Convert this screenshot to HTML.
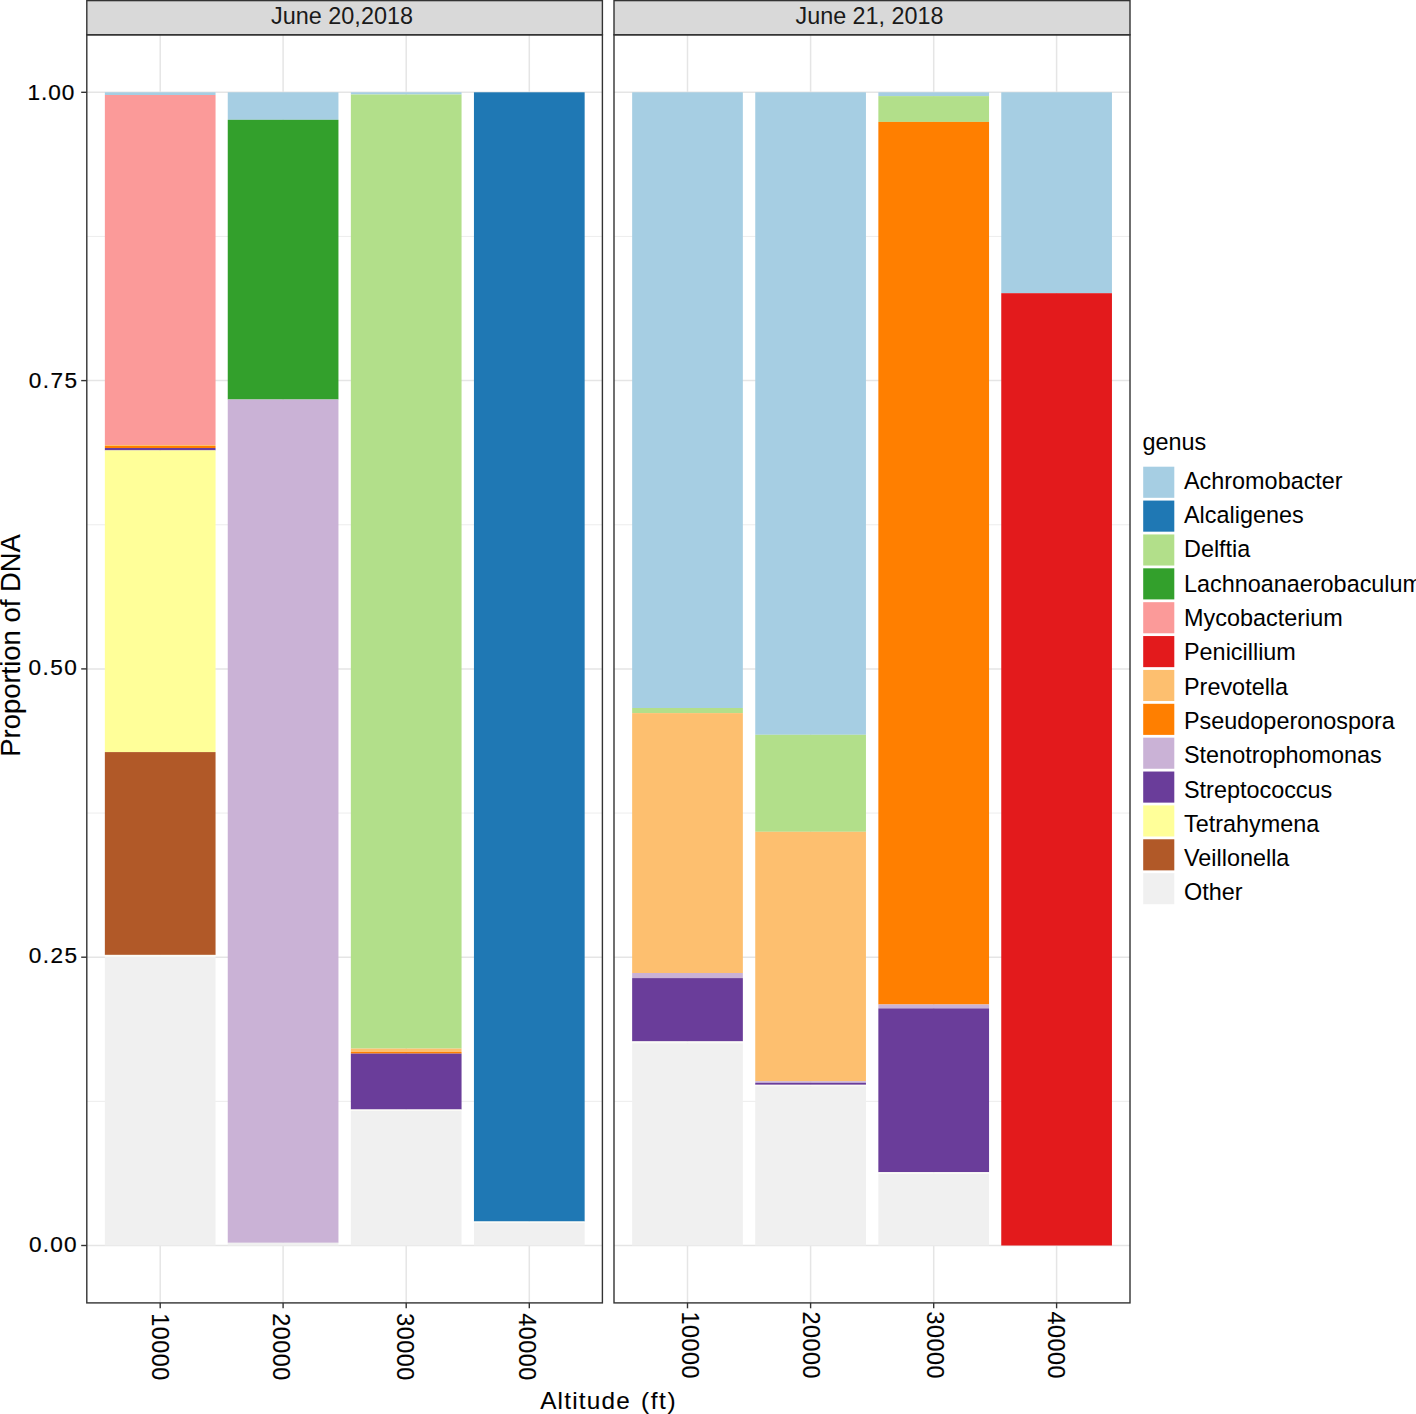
<!DOCTYPE html>
<html><head><meta charset="utf-8"><style>
html,body{margin:0;padding:0;background:#fff;width:1416px;height:1414px;overflow:hidden}
</style></head><body>
<svg width="1416" height="1414" viewBox="0 0 1416 1414" style="display:block">
<rect x="0" y="0" width="1416" height="1414" fill="#ffffff"/>
<line x1="86.8" x2="602.4" y1="1101.35" y2="1101.35" stroke="#E8E8E8" stroke-width="0.8"/>
<line x1="86.8" x2="602.4" y1="813.05" y2="813.05" stroke="#E8E8E8" stroke-width="0.8"/>
<line x1="86.8" x2="602.4" y1="524.75" y2="524.75" stroke="#E8E8E8" stroke-width="0.8"/>
<line x1="86.8" x2="602.4" y1="236.45" y2="236.45" stroke="#E8E8E8" stroke-width="0.8"/>
<line x1="86.8" x2="602.4" y1="1245.50" y2="1245.50" stroke="#E5E5E5" stroke-width="1.5"/>
<line x1="86.8" x2="602.4" y1="957.20" y2="957.20" stroke="#E5E5E5" stroke-width="1.5"/>
<line x1="86.8" x2="602.4" y1="668.90" y2="668.90" stroke="#E5E5E5" stroke-width="1.5"/>
<line x1="86.8" x2="602.4" y1="380.60" y2="380.60" stroke="#E5E5E5" stroke-width="1.5"/>
<line x1="86.8" x2="602.4" y1="92.30" y2="92.30" stroke="#E5E5E5" stroke-width="1.5"/>
<line x1="160.2" x2="160.2" y1="34.8" y2="1302.9" stroke="#E5E5E5" stroke-width="1.5"/>
<line x1="283.1" x2="283.1" y1="34.8" y2="1302.9" stroke="#E5E5E5" stroke-width="1.5"/>
<line x1="406.2" x2="406.2" y1="34.8" y2="1302.9" stroke="#E5E5E5" stroke-width="1.5"/>
<line x1="529.3" x2="529.3" y1="34.8" y2="1302.9" stroke="#E5E5E5" stroke-width="1.5"/>
<line x1="614.0" x2="1130.0" y1="1101.35" y2="1101.35" stroke="#E8E8E8" stroke-width="0.8"/>
<line x1="614.0" x2="1130.0" y1="813.05" y2="813.05" stroke="#E8E8E8" stroke-width="0.8"/>
<line x1="614.0" x2="1130.0" y1="524.75" y2="524.75" stroke="#E8E8E8" stroke-width="0.8"/>
<line x1="614.0" x2="1130.0" y1="236.45" y2="236.45" stroke="#E8E8E8" stroke-width="0.8"/>
<line x1="614.0" x2="1130.0" y1="1245.50" y2="1245.50" stroke="#E5E5E5" stroke-width="1.5"/>
<line x1="614.0" x2="1130.0" y1="957.20" y2="957.20" stroke="#E5E5E5" stroke-width="1.5"/>
<line x1="614.0" x2="1130.0" y1="668.90" y2="668.90" stroke="#E5E5E5" stroke-width="1.5"/>
<line x1="614.0" x2="1130.0" y1="380.60" y2="380.60" stroke="#E5E5E5" stroke-width="1.5"/>
<line x1="614.0" x2="1130.0" y1="92.30" y2="92.30" stroke="#E5E5E5" stroke-width="1.5"/>
<line x1="687.5" x2="687.5" y1="34.8" y2="1302.9" stroke="#E5E5E5" stroke-width="1.5"/>
<line x1="810.6" x2="810.6" y1="34.8" y2="1302.9" stroke="#E5E5E5" stroke-width="1.5"/>
<line x1="933.7" x2="933.7" y1="34.8" y2="1302.9" stroke="#E5E5E5" stroke-width="1.5"/>
<line x1="1056.6" x2="1056.6" y1="34.8" y2="1302.9" stroke="#E5E5E5" stroke-width="1.5"/>
<rect x="104.85" y="92.30" width="110.70" height="2.70" fill="#A6CEE3"/>
<rect x="104.85" y="95.00" width="110.70" height="350.00" fill="#FB9A99"/>
<rect x="104.85" y="445.00" width="110.70" height="1.00" fill="#FDBF6F"/>
<rect x="104.85" y="446.00" width="110.70" height="2.00" fill="#FF7F00"/>
<rect x="104.85" y="448.00" width="110.70" height="2.40" fill="#6A3D9A"/>
<rect x="104.85" y="450.40" width="110.70" height="301.70" fill="#FFFF99"/>
<rect x="104.85" y="752.10" width="110.70" height="202.80" fill="#B15928"/>
<rect x="104.85" y="954.90" width="110.70" height="2.00" fill="#FBFBF6"/>
<rect x="104.85" y="956.90" width="110.70" height="288.60" fill="#F0F0F0"/>
<rect x="227.75" y="92.30" width="110.70" height="27.50" fill="#A6CEE3"/>
<rect x="227.75" y="119.80" width="110.70" height="279.70" fill="#33A02C"/>
<rect x="227.75" y="399.50" width="110.70" height="843.30" fill="#CAB2D6"/>
<rect x="227.75" y="1242.80" width="110.70" height="2.70" fill="#F0F0F0"/>
<rect x="350.85" y="92.30" width="110.70" height="2.20" fill="#A6CEE3"/>
<rect x="350.85" y="94.50" width="110.70" height="954.10" fill="#B2DF8A"/>
<rect x="350.85" y="1048.60" width="110.70" height="3.40" fill="#FDBF6F"/>
<rect x="350.85" y="1052.00" width="110.70" height="1.60" fill="#FF7F00"/>
<rect x="350.85" y="1053.60" width="110.70" height="55.90" fill="#6A3D9A"/>
<rect x="350.85" y="1109.50" width="110.70" height="1.50" fill="#FBFBF6"/>
<rect x="350.85" y="1111.00" width="110.70" height="134.50" fill="#F0F0F0"/>
<rect x="473.95" y="92.30" width="110.70" height="1129.20" fill="#1F78B4"/>
<rect x="473.95" y="1221.50" width="110.70" height="1.50" fill="#FBFBF6"/>
<rect x="473.95" y="1223.00" width="110.70" height="22.50" fill="#F0F0F0"/>
<rect x="632.15" y="92.30" width="110.70" height="615.70" fill="#A6CEE3"/>
<rect x="632.15" y="708.00" width="110.70" height="5.10" fill="#B2DF8A"/>
<rect x="632.15" y="713.10" width="110.70" height="259.90" fill="#FDBF6F"/>
<rect x="632.15" y="973.00" width="110.70" height="5.10" fill="#CAB2D6"/>
<rect x="632.15" y="978.10" width="110.70" height="63.30" fill="#6A3D9A"/>
<rect x="632.15" y="1041.40" width="110.70" height="1.80" fill="#FBFBF6"/>
<rect x="632.15" y="1043.20" width="110.70" height="202.30" fill="#F0F0F0"/>
<rect x="755.25" y="92.30" width="110.70" height="642.50" fill="#A6CEE3"/>
<rect x="755.25" y="734.80" width="110.70" height="97.00" fill="#B2DF8A"/>
<rect x="755.25" y="831.80" width="110.70" height="249.40" fill="#FDBF6F"/>
<rect x="755.25" y="1081.20" width="110.70" height="1.60" fill="#CAB2D6"/>
<rect x="755.25" y="1082.80" width="110.70" height="2.00" fill="#6A3D9A"/>
<rect x="755.25" y="1084.80" width="110.70" height="1.40" fill="#FBFBF6"/>
<rect x="755.25" y="1086.20" width="110.70" height="159.30" fill="#F0F0F0"/>
<rect x="878.35" y="92.30" width="110.70" height="3.80" fill="#A6CEE3"/>
<rect x="878.35" y="96.10" width="110.70" height="25.80" fill="#B2DF8A"/>
<rect x="878.35" y="121.90" width="110.70" height="882.60" fill="#FF7F00"/>
<rect x="878.35" y="1004.50" width="110.70" height="3.90" fill="#CAB2D6"/>
<rect x="878.35" y="1008.40" width="110.70" height="163.80" fill="#6A3D9A"/>
<rect x="878.35" y="1172.20" width="110.70" height="1.70" fill="#FBFBF6"/>
<rect x="878.35" y="1173.90" width="110.70" height="71.60" fill="#F0F0F0"/>
<rect x="1001.25" y="92.30" width="110.70" height="200.90" fill="#A6CEE3"/>
<rect x="1001.25" y="293.20" width="110.70" height="952.30" fill="#E31A1C"/>
<rect x="86.8" y="0.6" width="515.60" height="34.20" fill="#D9D9D9" stroke="#333333" stroke-width="1.4"/>
<rect x="86.8" y="34.8" width="515.60" height="1268.10" fill="none" stroke="#333333" stroke-width="1.4"/>
<line x1="160.2" x2="160.2" y1="1302.9" y2="1308.3000000000002" stroke="#333333" stroke-width="1.4"/>
<line x1="283.1" x2="283.1" y1="1302.9" y2="1308.3000000000002" stroke="#333333" stroke-width="1.4"/>
<line x1="406.2" x2="406.2" y1="1302.9" y2="1308.3000000000002" stroke="#333333" stroke-width="1.4"/>
<line x1="529.3" x2="529.3" y1="1302.9" y2="1308.3000000000002" stroke="#333333" stroke-width="1.4"/>
<rect x="614.0" y="0.6" width="516.00" height="34.20" fill="#D9D9D9" stroke="#333333" stroke-width="1.4"/>
<rect x="614.0" y="34.8" width="516.00" height="1268.10" fill="none" stroke="#333333" stroke-width="1.4"/>
<line x1="687.5" x2="687.5" y1="1302.9" y2="1308.3000000000002" stroke="#333333" stroke-width="1.4"/>
<line x1="810.6" x2="810.6" y1="1302.9" y2="1308.3000000000002" stroke="#333333" stroke-width="1.4"/>
<line x1="933.7" x2="933.7" y1="1302.9" y2="1308.3000000000002" stroke="#333333" stroke-width="1.4"/>
<line x1="1056.6" x2="1056.6" y1="1302.9" y2="1308.3000000000002" stroke="#333333" stroke-width="1.4"/>
<line x1="81.2" x2="86.8" y1="1245.50" y2="1245.50" stroke="#333333" stroke-width="1.4"/>
<line x1="81.2" x2="86.8" y1="957.20" y2="957.20" stroke="#333333" stroke-width="1.4"/>
<line x1="81.2" x2="86.8" y1="668.90" y2="668.90" stroke="#333333" stroke-width="1.4"/>
<line x1="81.2" x2="86.8" y1="380.60" y2="380.60" stroke="#333333" stroke-width="1.4"/>
<line x1="81.2" x2="86.8" y1="92.30" y2="92.30" stroke="#333333" stroke-width="1.4"/>
<text x="271.0" y="23.5" style="font-family:'Liberation Sans',sans-serif;font-size:24.3px" fill="#1A1A1A" textLength="142" lengthAdjust="spacingAndGlyphs">June 20,2018</text>
<text x="795.5" y="23.5" style="font-family:'Liberation Sans',sans-serif;font-size:24.3px" fill="#1A1A1A" textLength="148" lengthAdjust="spacingAndGlyphs">June 21, 2018</text>
<text x="28.90" y="1252.40" style="font-family:'Liberation Sans',sans-serif;font-size:22.6px" fill="#000" stroke="#000" stroke-width="0.2" textLength="47.70" lengthAdjust="spacing">0.00</text>
<text x="28.80" y="963.10" style="font-family:'Liberation Sans',sans-serif;font-size:22.6px" fill="#000" stroke="#000" stroke-width="0.2" textLength="48.20" lengthAdjust="spacing">0.25</text>
<text x="28.60" y="675.10" style="font-family:'Liberation Sans',sans-serif;font-size:22.6px" fill="#000" stroke="#000" stroke-width="0.2" textLength="48.30" lengthAdjust="spacing">0.50</text>
<text x="28.70" y="387.50" style="font-family:'Liberation Sans',sans-serif;font-size:22.6px" fill="#000" stroke="#000" stroke-width="0.2" textLength="48.30" lengthAdjust="spacing">0.75</text>
<text x="27.60" y="100.40" style="font-family:'Liberation Sans',sans-serif;font-size:22.6px" fill="#000" stroke="#000" stroke-width="0.2" textLength="46.80" lengthAdjust="spacing">1.00</text>
<text transform="translate(152.35,1313.3) rotate(90)" x="0" y="0" style="font-family:'Liberation Sans',sans-serif;font-size:23.4px" fill="#000" stroke="#000" stroke-width="0.15" textLength="67" lengthAdjust="spacing">10000</text>
<text transform="translate(272.75,1313.3) rotate(90)" x="0" y="0" style="font-family:'Liberation Sans',sans-serif;font-size:23.4px" fill="#000" stroke="#000" stroke-width="0.15" textLength="67" lengthAdjust="spacing">20000</text>
<text transform="translate(397.00,1313.3) rotate(90)" x="0" y="0" style="font-family:'Liberation Sans',sans-serif;font-size:23.4px" fill="#000" stroke="#000" stroke-width="0.15" textLength="67" lengthAdjust="spacing">30000</text>
<text transform="translate(518.80,1313.3) rotate(90)" x="0" y="0" style="font-family:'Liberation Sans',sans-serif;font-size:23.4px" fill="#000" stroke="#000" stroke-width="0.15" textLength="67" lengthAdjust="spacing">40000</text>
<text transform="translate(682.00,1311.4) rotate(90)" x="0" y="0" style="font-family:'Liberation Sans',sans-serif;font-size:23.4px" fill="#000" stroke="#000" stroke-width="0.15" textLength="67" lengthAdjust="spacing">10000</text>
<text transform="translate(802.60,1311.4) rotate(90)" x="0" y="0" style="font-family:'Liberation Sans',sans-serif;font-size:23.4px" fill="#000" stroke="#000" stroke-width="0.15" textLength="67" lengthAdjust="spacing">20000</text>
<text transform="translate(926.70,1311.4) rotate(90)" x="0" y="0" style="font-family:'Liberation Sans',sans-serif;font-size:23.4px" fill="#000" stroke="#000" stroke-width="0.15" textLength="67" lengthAdjust="spacing">30000</text>
<text transform="translate(1048.45,1311.4) rotate(90)" x="0" y="0" style="font-family:'Liberation Sans',sans-serif;font-size:23.4px" fill="#000" stroke="#000" stroke-width="0.15" textLength="67" lengthAdjust="spacing">40000</text>
<text x="540.2" y="1408.9" style="font-family:'Liberation Sans',sans-serif;font-size:24.3px" fill="#000" stroke="#000" stroke-width="0.1" textLength="89.5" lengthAdjust="spacing">Altitude</text>
<text x="641.0" y="1408.9" style="font-family:'Liberation Sans',sans-serif;font-size:24.3px" fill="#000" stroke="#000" stroke-width="0.1" textLength="34.5" lengthAdjust="spacing">(ft)</text>
<text transform="translate(19.7,756.7) rotate(-90)" x="0" y="0" style="font-family:'Liberation Sans',sans-serif;font-size:28.2px" fill="#000" stroke="#000" stroke-width="0.1" textLength="222.5" lengthAdjust="spacingAndGlyphs">Proportion of DNA</text>
<text x="1142.5" y="450.3" style="font-family:'Liberation Sans',sans-serif;font-size:24.0px" fill="#000" textLength="63.76" lengthAdjust="spacingAndGlyphs">genus</text>
<rect x="1143.2" y="466.70" width="31.1" height="31.1" fill="#A6CEE3"/>
<text x="1184.0" y="488.90" style="font-family:'Liberation Sans',sans-serif;font-size:24.3px" fill="#000" textLength="158.67" lengthAdjust="spacingAndGlyphs">Achromobacter</text>
<rect x="1143.2" y="500.57" width="31.1" height="31.1" fill="#1F78B4"/>
<text x="1184.0" y="523.19" style="font-family:'Liberation Sans',sans-serif;font-size:24.3px" fill="#000" textLength="119.67" lengthAdjust="spacingAndGlyphs">Alcaligenes</text>
<rect x="1143.2" y="534.44" width="31.1" height="31.1" fill="#B2DF8A"/>
<text x="1184.0" y="557.48" style="font-family:'Liberation Sans',sans-serif;font-size:24.3px" fill="#000" textLength="66.33" lengthAdjust="spacingAndGlyphs">Delftia</text>
<rect x="1143.2" y="568.31" width="31.1" height="31.1" fill="#33A02C"/>
<text x="1184.0" y="591.77" style="font-family:'Liberation Sans',sans-serif;font-size:24.3px" fill="#000" textLength="238.08" lengthAdjust="spacingAndGlyphs">Lachnoanaerobaculum</text>
<rect x="1143.2" y="602.18" width="31.1" height="31.1" fill="#FB9A99"/>
<text x="1184.0" y="626.06" style="font-family:'Liberation Sans',sans-serif;font-size:24.3px" fill="#000" textLength="158.65" lengthAdjust="spacingAndGlyphs">Mycobacterium</text>
<rect x="1143.2" y="636.05" width="31.1" height="31.1" fill="#E31A1C"/>
<text x="1184.0" y="660.35" style="font-family:'Liberation Sans',sans-serif;font-size:24.3px" fill="#000" textLength="111.84" lengthAdjust="spacingAndGlyphs">Penicillium</text>
<rect x="1143.2" y="669.92" width="31.1" height="31.1" fill="#FDBF6F"/>
<text x="1184.0" y="694.64" style="font-family:'Liberation Sans',sans-serif;font-size:24.3px" fill="#000" textLength="104.06" lengthAdjust="spacingAndGlyphs">Prevotella</text>
<rect x="1143.2" y="703.79" width="31.1" height="31.1" fill="#FF7F00"/>
<text x="1184.0" y="728.93" style="font-family:'Liberation Sans',sans-serif;font-size:24.3px" fill="#000" textLength="210.76" lengthAdjust="spacingAndGlyphs">Pseudoperonospora</text>
<rect x="1143.2" y="737.66" width="31.1" height="31.1" fill="#CAB2D6"/>
<text x="1184.0" y="763.22" style="font-family:'Liberation Sans',sans-serif;font-size:24.3px" fill="#000" textLength="197.74" lengthAdjust="spacingAndGlyphs">Stenotrophomonas</text>
<rect x="1143.2" y="771.53" width="31.1" height="31.1" fill="#6A3D9A"/>
<text x="1184.0" y="797.51" style="font-family:'Liberation Sans',sans-serif;font-size:24.3px" fill="#000" textLength="148.27" lengthAdjust="spacingAndGlyphs">Streptococcus</text>
<rect x="1143.2" y="805.40" width="31.1" height="31.1" fill="#FFFF99"/>
<text x="1184.0" y="831.80" style="font-family:'Liberation Sans',sans-serif;font-size:24.3px" fill="#000" textLength="135.27" lengthAdjust="spacingAndGlyphs">Tetrahymena</text>
<rect x="1143.2" y="839.27" width="31.1" height="31.1" fill="#B15928"/>
<text x="1184.0" y="866.09" style="font-family:'Liberation Sans',sans-serif;font-size:24.3px" fill="#000" textLength="105.38" lengthAdjust="spacingAndGlyphs">Veillonella</text>
<rect x="1143.2" y="873.14" width="31.1" height="31.1" fill="#F0F0F0"/>
<text x="1184.0" y="900.38" style="font-family:'Liberation Sans',sans-serif;font-size:24.3px" fill="#000" textLength="58.52" lengthAdjust="spacingAndGlyphs">Other</text>
</svg>
</body></html>
